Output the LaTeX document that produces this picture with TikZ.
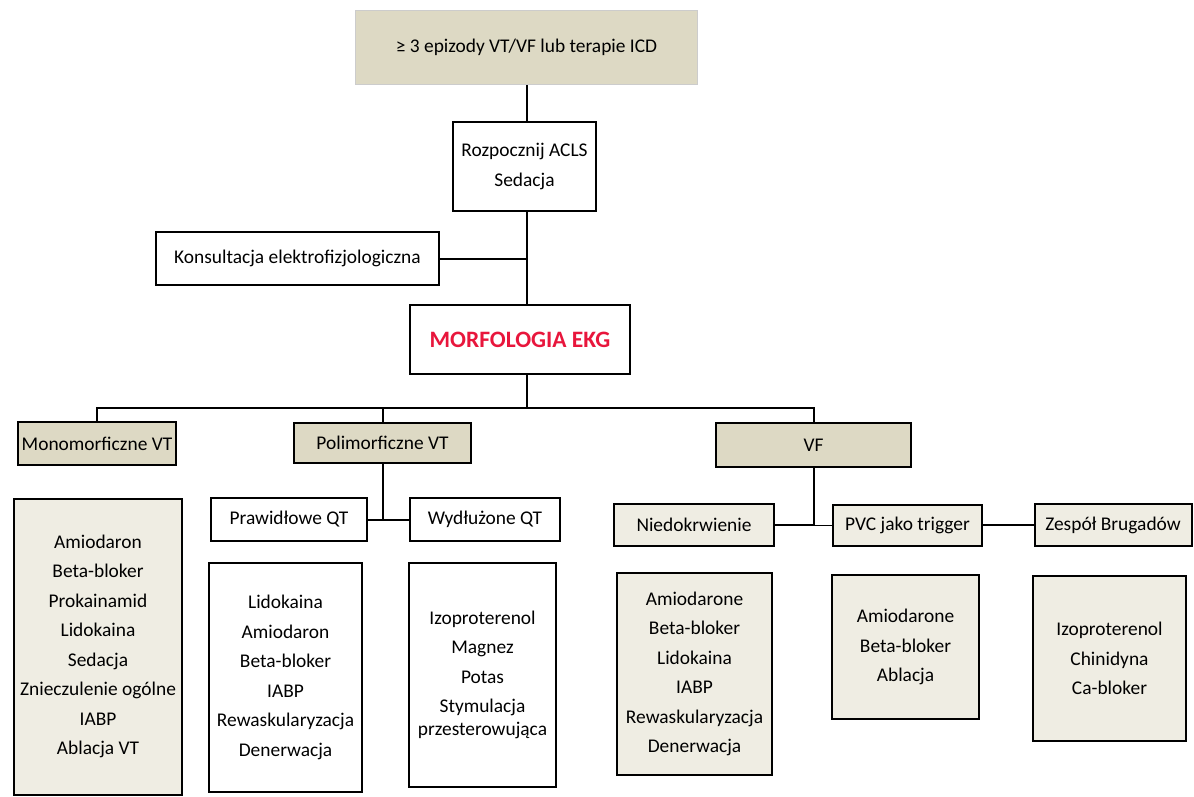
\documentclass[tikz,border=0pt]{standalone}
\usepackage{fontspec}
\setmainfont{Carlito}
\definecolor{tanfill}{RGB}{221,217,196}
\definecolor{palefill}{RGB}{239,237,227}
\definecolor{ekgred}{RGB}{232,22,60}

\begin{document}
\begin{tikzpicture}[x=1pt,y=-1pt,
  box/.style={draw,line width=2pt,inner sep=0pt,align=center,
    font=\fontsize{19.4}{29.5}\selectfont},
  tanbox/.style={box,fill=tanfill},
  palebox/.style={box,fill=palefill},
  link/.style={line width=2pt}]
\useasboundingbox (0,0) rectangle (1194,797);
% top of the chart
\node[box,fill=tanfill,draw=black!20,line width=1pt,minimum width=342,minimum height=74] (start) at (526.5,47.5) {≥ 3 epizody VT/VF lub terapie ICD};
\node[box,minimum width=143,minimum height=89] (acls) at (524.5,166.5) {Rozpocznij ACLS\\Sedacja};
\node[box,minimum width=283,minimum height=53] (konsult) at (297.5,258.5) {Konsultacja elektrofizjologiczna};
\node[box,minimum width=220,minimum height=69,font=\fontsize{23.5}{29.5}\selectfont\bfseries,text=ekgred] (ekg) at (520,339.5) {MORFOLOGIA EKG};
\coordinate (bus) at (527,408);
% morphology
\node[tanbox,minimum width=158,minimum height=43] (mono) at (97,443.5) {Monomorficzne VT};
\node[tanbox,minimum width=177,minimum height=40] (poli) at (382.5,443) {Polimorficzne VT};
\node[tanbox,minimum width=195,minimum height=44] (vf) at (813.5,445) {VF};
\node[box,minimum width=156,minimum height=43] (normqt) at (289,519.5) {Prawidłowe QT};
\node[box,minimum width=150,minimum height=43] (longqt) at (485,519.5) {Wydłużone QT};
\node[palebox,minimum width=160,minimum height=42] (ischemia) at (694,525) {Niedokrwienie};
\node[palebox,minimum width=149,minimum height=41] (pvc) at (907.5,525) {PVC jako trigger};
\node[palebox,minimum width=157,minimum height=42] (brugada) at (1113,525) {Zespół Brugadów};
% treatment
\node[palebox,minimum width=168,minimum height=296] (monotx) at (98,646.5) {Amiodaron\\Beta-bloker\\Prokainamid\\Lidokaina\\Sedacja\\Znieczulenie ogólne\\IABP\\Ablacja VT};
\node[box,minimum width=153,minimum height=229] (normtx) at (285.5,677.5) {Lidokaina\\Amiodaron\\Beta-bloker\\IABP\\Rewaskularyzacja\\Denerwacja};
\node[box,minimum width=147,minimum height=224] (longtx) at (482.5,675) {Izoproterenol\\Magnez\\Potas\\Stymulacja\\[-6.5pt]przesterowująca};
\node[palebox,minimum width=155,minimum height=202] (ischemiatx) at (694.5,674) {Amiodarone\\Beta-bloker\\Lidokaina\\IABP\\Rewaskularyzacja\\Denerwacja};
\node[palebox,minimum width=147,minimum height=144] (pvctx) at (905.5,647) {Amiodarone\\Beta-bloker\\Ablacja};
\node[palebox,minimum width=153,minimum height=165] (brugadatx) at (1109.5,658.5) {Izoproterenol\\Chinidyna\\Ca-bloker};
% connectors
\draw[link] (start.south) -- (start.south |- acls.north);
\draw[link] (acls.south -| bus) -- (ekg.north -| bus);
\draw[link] (konsult.east) -- (konsult.east -| bus);
\draw[link] (ekg.south -| bus) -- (bus);
\draw[link] (mono.north) |- (bus) -| (vf.north);
\draw[link] (poli.north) -- (poli.north |- bus);
\draw[link] (poli.south) |- (normqt.east);
\draw[link] (normqt.east) -- (longqt.west);
\draw[link] (vf.south) |- (ischemia.east);
\draw[line width=1pt] (ischemia.east -| vf.south) -- (pvc.west);
\draw[link] (pvc.east) -- (brugada.west);
\end{tikzpicture}
\end{document}
